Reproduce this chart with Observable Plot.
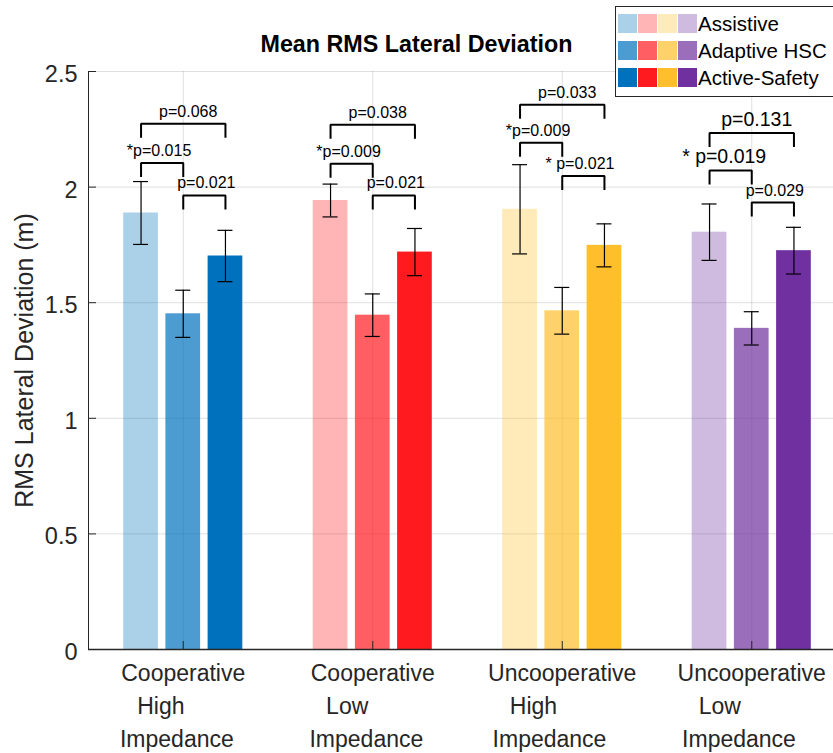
<!DOCTYPE html>
<html><head><meta charset="utf-8">
<script src="https://cdn.jsdelivr.net/npm/d3@7"></script>
<script src="https://cdn.jsdelivr.net/npm/@observablehq/plot@0.6"></script>
<style>
html,body{margin:0;padding:0;background:#fff;overflow:hidden;}
#wrap{position:relative;width:833px;height:753px;overflow:hidden;font-family:"Liberation Sans",Arial,sans-serif;}
#wrap svg text{white-space:pre;}
#legend{position:absolute;left:615px;top:6px;width:240px;height:91px;border:1px solid #262626;background:#fff;box-sizing:border-box;}
#legend .sw{position:absolute;width:19px;height:19px;}
#legend .lt{position:absolute;font-size:20.5px;line-height:19px;color:#000;white-space:nowrap;}
</style></head><body><div id="wrap"></div>
<script>
// ---- data ----
const groupLines = [
  ["Cooperative", "High", "Impedance"],
  ["Cooperative", "Low", "Impedance"],
  ["Uncooperative", "High", "Impedance"],
  ["Uncooperative", "Low", "Impedance"]
];
const seriesNames = ["Assistive", "Adaptive HSC", "Active-Safety"];
const assistiveMean = [1.888, 1.942, 1.904, 1.805];
const adaptiveMean  = [1.452, 1.446, 1.465, 1.389];
const activeMean    = [1.702, 1.719, 1.748, 1.725];
const assistiveErr  = [0.136, 0.071, 0.193, 0.122];
const adaptiveErr   = [0.102, 0.092, 0.101, 0.072];
const activeErr     = [0.111, 0.102, 0.093, 0.101];
const yTicks = [0, 0.5, 1, 1.5, 2, 2.5];
const bracketGroup = [0, 0, 0, 1, 1, 1, 2, 2, 2, 3, 3, 3];
const bracketFrom  = [0, 0, 1, 0, 0, 1, 0, 0, 1, 0, 0, 1];
const bracketTo    = [1, 2, 2, 1, 2, 2, 1, 2, 2, 1, 2, 2];
const bracketTop   = [2.104, 2.274, 1.964, 2.101, 2.270, 1.964, 2.192, 2.356, 2.048, 2.072, 2.234, 1.933];
const bracketText  = ["*p=0.015", "p=0.068", "p=0.021", "*p=0.009", "p=0.038", "p=0.021",
                      "*p=0.009", "p=0.033", "* p=0.021", "* p=0.019", "p=0.131", "p=0.029"];
const titleText = "Mean RMS Lateral Deviation";
const yLabelText = "RMS Lateral Deviation (m)";

// ---- styling ----
const groupColors = ["#0072BD", "#FF1A1F", "#FFBE2B", "#7030A0"];
const seriesAlpha = [0.33, 0.7, 1];
const axisColor = "#262626";
const W = 833, H = 753, mL = 88, mR = -13, mT = 71, mB = 104;
const xDomain = [0.5, groupLines.length + 0.5];
const pxPerX = (W - mR - mL) / (xDomain[1] - xDomain[0]);
const pxPerY = (H - mB - mT) / 2.5;
const barOffset = 42.2 / pxPerX, barWidth = 34.7 / pxPerX, capHalf = 7.5 / pxPerX;
const legDrop = 14 / pxPerY;
const bigLabelIdx = new Set([9, 10]);

const seriesMeans = [assistiveMean, adaptiveMean, activeMean];
const seriesErrs = [assistiveErr, adaptiveErr, activeErr];
const barX = (g, k) => g + 1 + (k - 1) * barOffset;

const bars = [];
seriesNames.forEach((s, k) => {
  seriesMeans[k].forEach((v, g) => bars.push({g, k, x: barX(g, k), mean: v, err: seriesErrs[k][g], color: groupColors[g]}));
});
const caps = bars.flatMap(d => [{x: d.x, y: d.mean - d.err}, {x: d.x, y: d.mean + d.err}]);

const brackets = bracketText.map((t, i) => {
  const x1 = barX(bracketGroup[i], bracketFrom[i]), x2 = barX(bracketGroup[i], bracketTo[i]);
  const fs = bigLabelIdx.has(i) ? 19.5 : 16;
  const pre = (t.match(/^\*\s*/) || [""])[0];
  const preW = pre ? (0.389 + 0.278 * (pre.length - 1)) * fs : 0;
  const type = bracketFrom[i] + "-" + bracketTo[i];
  const nudge = type === "0-2" ? 5 : type === "1-2" ? 2 : 0;
  return {i, x1, x2, xl: (x1 + x2) / 2 + (nudge - preW / 2) / pxPerX, top: bracketTop[i], text: t, fs};
});
const bracketPts = brackets.flatMap(b => [
  {id: b.i, x: b.x1, y: b.top - legDrop},
  {id: b.i, x: b.x1, y: b.top},
  {id: b.i, x: b.x2, y: b.top},
  {id: b.i, x: b.x2, y: b.top - legDrop}
]);

const xLabels = groupLines.map((lines, g) => {
  const n = Math.max(...lines.map(l => l.length));
  return {x: g + 1, text: lines.map(l => l.padEnd(n, " ")).join("\n")};
});

const chart = Plot.plot({
  width: W, height: H,
  marginLeft: mL, marginRight: mR, marginTop: mT, marginBottom: mB,
  style: {fontFamily: "'Liberation Sans', Arial, sans-serif", fontSize: "23px", color: axisColor, background: "#fff"},
  x: {domain: xDomain, axis: null},
  y: {domain: [0, 2.5]},
  color: {type: "identity"},
  marks: [
    Plot.gridY(yTicks, {stroke: axisColor, strokeOpacity: 0.15}),
    Plot.gridX(groupLines.map((d, g) => g + 1), {stroke: axisColor, strokeOpacity: 0.15}),
    ...seriesNames.map((s, k) => Plot.rectY(bars.filter(d => d.k === k), {
      x1: d => d.x - barWidth / 2, x2: d => d.x + barWidth / 2, y1: 0, y2: "mean",
      fill: "color", fillOpacity: seriesAlpha[k]
    })),
    Plot.ruleX(bars, {x: "x", y1: d => d.mean - d.err, y2: d => d.mean + d.err, stroke: "#000", strokeWidth: 1.2}),
    Plot.ruleY(caps, {y: "y", x1: d => d.x - capHalf, x2: d => d.x + capHalf, stroke: "#000", strokeWidth: 1.2}),
    Plot.ruleX([xDomain[0]], {y1: 0, y2: 2.5, stroke: axisColor, strokeWidth: 1}),
    Plot.ruleY([0], {stroke: axisColor, strokeWidth: 1.3}),
    Plot.ruleY(yTicks, {x1: xDomain[0], x2: xDomain[0] + 8 / pxPerX, stroke: axisColor}),
    Plot.ruleX(groupLines.map((d, g) => g + 1), {y1: 0, y2: 8 / pxPerY, stroke: axisColor}),
    Plot.line(bracketPts, {x: "x", y: "y", z: "id", stroke: "#000", strokeWidth: 2, strokeLinejoin: "miter", strokeLinecap: "butt"}),
    Plot.text(brackets.filter(b => b.fs === 16), {x: "xl", y: "top", text: "text", fontSize: 16, dy: -7, lineAnchor: "bottom", fill: "#000"}),
    Plot.text(brackets.filter(b => b.fs !== 16), {x: "xl", y: "top", text: "text", fontSize: 19.5, dy: -7, lineAnchor: "bottom", fill: "#000"}),
    Plot.axisY(yTicks, {tickSize: 0, tickPadding: 11, fontSize: 23.5, tickFormat: d => String(d), dy: 3, label: null}),
    Plot.text(xLabels, {x: "x", y: 0, text: "text", lineAnchor: "top", lineHeight: 1.435, dy: 8, fontSize: 23, fill: axisColor}),
    Plot.text([yLabelText], {frameAnchor: "left", text: d => d, rotate: -90, dx: -56, textAnchor: "middle", lineAnchor: "bottom", fontSize: 25, fill: axisColor}),
    Plot.text([titleText], {frameAnchor: "top-left", text: d => d, dx: 416 - mL, dy: 51 - mT, textAnchor: "middle", lineAnchor: "bottom", fontSize: 23.3, fontWeight: "bold", fill: "#000"})
  ]
});
const wrap = document.getElementById("wrap");
wrap.appendChild(chart);

// legend
const leg = document.createElement("div");
leg.id = "legend";
seriesNames.forEach((s, k) => {
  groupColors.forEach((c, g) => {
    const sw = document.createElement("div");
    sw.className = "sw";
    sw.style.left = (1.5 + g * 20.1) + "px";
    sw.style.top = (7 + k * 27) + "px";
    sw.style.background = c;
    sw.style.opacity = seriesAlpha[k];
    leg.appendChild(sw);
  });
  const t = document.createElement("div");
  t.className = "lt";
  t.style.left = "82px";
  t.style.top = (7 + k * 27) + "px";
  t.textContent = s;
  leg.appendChild(t);
});
wrap.appendChild(leg);
</script></body></html>
